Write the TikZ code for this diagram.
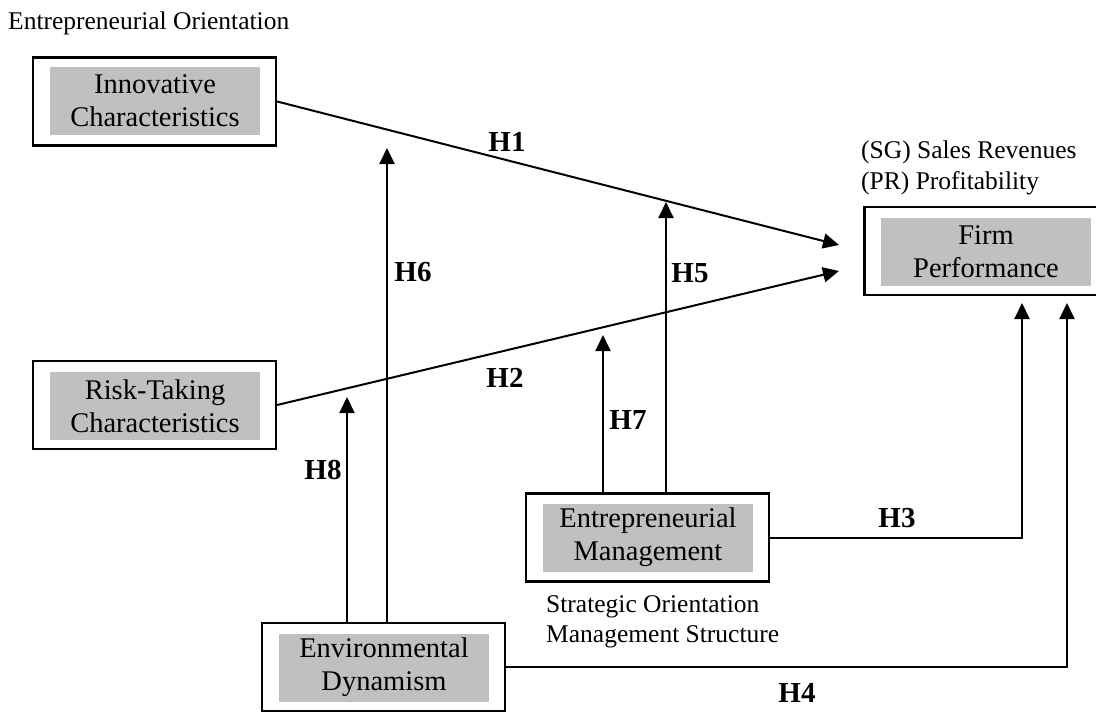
\documentclass[tikz,border=0pt]{standalone}
\usepackage{fontspec}
\setmainfont{Liberation Serif}
\usetikzlibrary{arrows.meta,calc}
\definecolor{boxgray}{RGB}{192,192,192}

\begin{document}
\begin{tikzpicture}[x=1pt,y=-1pt,
    outerbox/.style ={draw, line width=2.2pt, minimum width=243pt, minimum height=88pt, inner sep=0pt},
    innerbox/.style ={fill=boxgray, minimum width=210pt, minimum height=68pt, inner sep=0pt,
                      align=center, font=\fontsize{28.5}{33}\selectfont},
    hypo/.style ={font=\fontsize{29}{34}\selectfont\bfseries, inner sep=0pt},
    note/.style ={font=\fontsize{25.5}{30}\selectfont, inner sep=0pt, anchor=base west},
    link/.style ={line width=2pt, -{Triangle[length=16pt,width=15pt]}}]
   \path[use as bounding box, clip] (0,0) rectangle (1096,712);

   % boxes
   \node[outerbox] (innov) at (154.5,101.5) {};
   \node[innerbox] (innovt) at (155,101) {Innovative\\Characteristics};
   \node[outerbox] (risk) at (154.5,405) {};
   \node[innerbox] (riskt) at (155,406) {Risk-Taking\\Characteristics};
   \node[outerbox] (em) at (647.5,537.5) {};
   \node[innerbox] (emt) at (648,537.5) {Entrepreneurial\\Management};
   \node[outerbox] (env) at (383.5,667) {};
   \node[innerbox] (envt) at (384,667.5) {Environmental\\Dynamism};
   \node[outerbox] (firm) at (986,251) {};
   \node[innerbox] (firmt) at (986,251.5) {Firm\\Performance};

   % side texts
   \node[note] (eo) at (8,29) {Entrepreneurial Orientation};
   \node[note] (sg) at (861,158) {(SG) Sales Revenues};
   \node[note] (pr) at (861,189) {(PR) Profitability};
   \node[note] (so) at (546,612) {Strategic Orientation};
   \node[note] (ms) at (546,642) {Management Structure};

   % arrow ends
   \coordinate (h1tip) at (839,245);
   \coordinate (h2tip) at (839,271);
   \coordinate (h3tip) at (1022,303);
   \coordinate (h4tip) at (1067,303);
   \coordinate (h5tip) at (666,202);
   \coordinate (h6tip) at (387,148);
   \coordinate (h7tip) at (603,335);
   \coordinate (h8tip) at (347,397);

   \draw[link] (innov.east) to (h1tip);
   \draw[link] (risk.east) to (h2tip);
   \draw[link] (em.east) -| (h3tip);
   \draw[link] (env.east) -| (h4tip);
   \draw[link] (em.north -| h5tip) to (h5tip);
   \draw[link] (env.north -| h6tip) to (h6tip);
   \draw[link] (em.north -| h7tip) to (h7tip);
   \draw[link] (env.north -| h8tip) to (h8tip);

   % hypotheses
   \node[hypo] (H1) at (507,142) {H1};
   \node[hypo] (H2) at (505,378) {H2};
   \node[hypo] (H3) at (897,518) {H3};
   \node[hypo] (H4) at (797,693) {H4};
   \node[hypo] (H5) at (690,273) {H5};
   \node[hypo] (H6) at (413,272) {H6};
   \node[hypo] (H7) at (628,420) {H7};
   \node[hypo] (H8) at (323,470) {H8};
 \end{tikzpicture}
\end{document}
